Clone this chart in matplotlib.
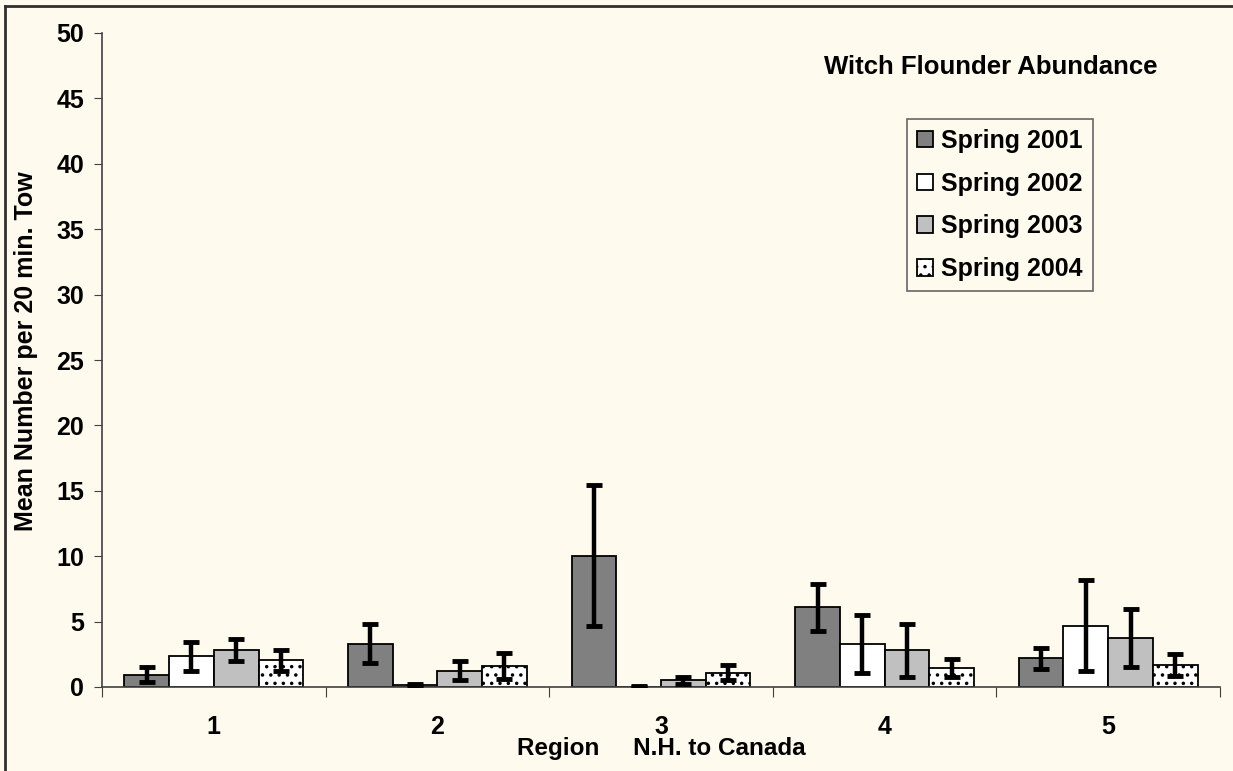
import numpy as np
import matplotlib
matplotlib.use("Agg")
import matplotlib.pyplot as plt
from matplotlib.lines import Line2D

# values
regions = ["1", "2", "3", "4", "5"]
series = ["Spring 2001", "Spring 2002", "Spring 2003", "Spring 2004"]
s2001 = [0.95, 3.3, 10.05, 6.1, 2.2]
s2001_err = [0.55, 1.5, 5.4, 1.8, 0.8]
s2002 = [2.35, 0.15, 0.03, 3.3, 4.7]
s2002_err = [1.1, 0.05, 0.03, 2.2, 3.45]
s2003 = [2.85, 1.25, 0.5, 2.8, 3.75]
s2003_err = [0.85, 0.75, 0.3, 2.05, 2.25]
s2004 = [2.05, 1.6, 1.1, 1.45, 1.7]
s2004_err = [0.8, 1.0, 0.6, 0.7, 0.85]
yticks = [0, 5, 10, 15, 20, 25, 30, 35, 40, 45, 50]

BG = "#FFFAEE"
plt.rcParams["font.family"] = ["Liberation Sans", "DejaVu Sans"]
plt.rcParams["font.weight"] = "bold"
plt.rcParams["hatch.linewidth"] = 1.3

fig = plt.figure(figsize=(12.33, 7.71), dpi=100, facecolor=BG)
ax = fig.add_axes([102 / 1233, 1 - 687 / 771, 1118 / 1233, 654 / 771])
ax.set_facecolor(BG)

x = np.arange(len(regions))
w = 0.2
vals = [s2001, s2002, s2003, s2004]
errs = [s2001_err, s2002_err, s2003_err, s2004_err]
fills = ["#808080", "#FFFFFF", "#C0C0C0", "#FFFFFF"]
hatches = [None, None, None, ".."]
for k in range(4):
    ax.bar(x + (k - 1.5) * w, vals[k], w, color=fills[k], edgecolor="black",
           linewidth=1.3, hatch=hatches[k], zorder=2, label=series[k])
    ax.errorbar(x + (k - 1.5) * w, vals[k], yerr=errs[k], fmt="none",
                ecolor="black", elinewidth=3.2, capsize=6, capthick=3.5, zorder=3)

ax.set_xlim(-0.5, 4.5)
ax.set_ylim(0, 50)
ax.set_yticks(yticks)
ax.set_yticklabels([str(v) for v in yticks], fontsize=18, fontweight="bold")
ax.set_xticks(np.arange(-0.5, 5, 1))
ax.set_xticklabels([])
ax.set_xticks(x, minor=True)
ax.set_xticklabels(regions, minor=True, fontsize=18, fontweight="bold")
ax.tick_params(axis="x", which="minor", length=0, pad=20)
ax.tick_params(axis="x", which="major", length=7, color="#404040", direction="out")
ax.tick_params(axis="y", length=6, color="#404040", pad=7)
for s in ["top", "right"]:
    ax.spines[s].set_visible(False)
for s in ["left", "bottom"]:
    ax.spines[s].set_color("#404040")
    ax.spines[s].set_linewidth(1.2)

ax.set_xlabel("Region     N.H. to Canada", fontsize=17.5, fontweight="bold", labelpad=-1)
ax.set_ylabel("Mean Number per 20 min. Tow", fontsize=18, fontweight="bold")
ax.yaxis.set_label_coords(-0.0575, 0.514)

fig.text(991 / 1233, 1 - 67 / 771, "Witch Flounder Abundance", ha="center",
         va="center", fontsize=18.5, fontweight="bold")

leg = ax.legend(loc="upper left", bbox_to_anchor=(907 / 1233, 1 - 119 / 771),
                bbox_transform=fig.transFigure, fontsize=18, frameon=True,
                fancybox=False, facecolor=BG, edgecolor="#404040",
                handlelength=0.64, handleheight=0.64, handletextpad=0.32,
                labelspacing=0.75, borderpad=0.4, borderaxespad=0)
leg.get_frame().set_linewidth(1.2)
for t in leg.get_texts():
    t.set_fontweight("bold")

# figure border
fig.add_artist(Line2D([5 / 1233, 5 / 1233], [0, 1 - 6 / 771], transform=fig.transFigure,
                      color="#303030", lw=2))
fig.add_artist(Line2D([5 / 1233, 1], [1 - 6 / 771, 1 - 6 / 771], transform=fig.transFigure,
                      color="#303030", lw=2))

fig.savefig("out.png", dpi=100, facecolor=BG)
